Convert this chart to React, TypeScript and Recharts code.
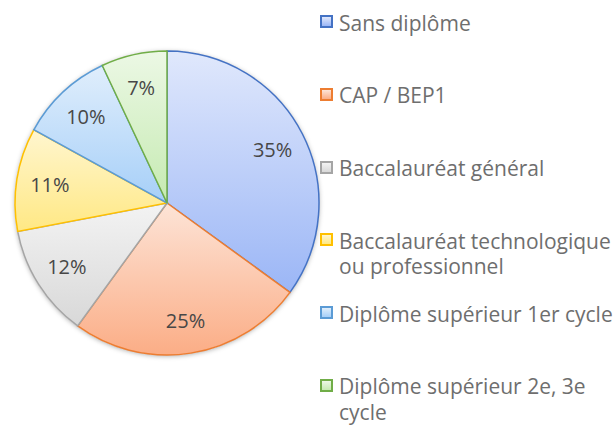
import React from "react";
import { PieChart, Pie, Cell, Legend } from "recharts";

const categories = [
  "Sans diplôme",
  "CAP / BEP1",
  "Baccalauréat général",
  "Baccalauréat technologique ou professionnel",
  "Diplôme supérieur 1er cycle",
  "Diplôme supérieur 2e, 3e cycle",
];
const shares = [35, 25, 12, 11, 10, 7];
const strokeColors = ["#4472c4", "#ed7d31", "#a5a5a5", "#ffc000", "#5b9bd5", "#70ad47"];
const topColors = ["#e0e8fc", "#fde4d7", "#f3f3f3", "#fff6cf", "#e0eefc", "#ecf8e5"];
const bottomColors = ["#9bb6f6", "#fbad86", "#d8d8d8", "#ffe884", "#a6cff8", "#c5eab1"];

const data = categories.map((name, i) => ({ name, value: shares[i] }));
const total = [{ name: "total", value: shares.reduce((a, b) => a + b, 0) }];

const RAD = Math.PI / 180;
const FONT = "'Open Sans', 'DejaVu Sans', sans-serif";

const renderLabel = (props: any) => {
  const { cx, cy, midAngle, outerRadius, value } = props;
  const r = outerRadius * 0.78;
  const x = cx + r * Math.cos(-midAngle * RAD);
  const y = cy + r * Math.sin(-midAngle * RAD);
  return (
    <text
      x={x}
      y={y}
      textAnchor="middle"
      dominantBaseline="central"
      fill="#474747"
      fontSize={20}
      fontFamily={FONT}
    >
      {`${value}%`}
    </text>
  );
};

const renderLegend = () => (
  <div style={{ fontFamily: FONT, fontSize: 21, color: "#6e6e6e" }}>
    {categories.map((c, i) => (
      <div key={c} style={{ height: 72.8, display: "flex", alignItems: "flex-start" }}>
        <div
          style={{
            boxSizing: "border-box",
            width: 13,
            height: 13,
            marginTop: 5,
            marginRight: 6,
            flex: "0 0 auto",
            border: `2px solid ${strokeColors[i]}`,
            background: `linear-gradient(${topColors[i]}, ${bottomColors[i]})`,
          }}
        />
        <div style={{ lineHeight: "25.5px", marginTop: 0.5 }}>{c}</div>
      </div>
    ))}
  </div>
);

export default function App() {
  return (
    <div style={{ position: "absolute", left: 0, top: 0, width: 615, height: 428, background: "#fff" }}>
      <PieChart width={615} height={428} margin={{ top: 0, right: 0, bottom: 0, left: 0 }}>
        <defs>
          {categories.map((c, i) => (
            <linearGradient key={c} id={`g${i}`} x1="0" y1="0" x2="0" y2="1">
              <stop offset="0%" stopColor={topColors[i]} />
              <stop offset="100%" stopColor={bottomColors[i]} />
            </linearGradient>
          ))}
          <filter id="shadow" x="-10%" y="-10%" width="120%" height="120%">
            <feDropShadow dx="0" dy="1" stdDeviation="2.5" floodColor="#000" floodOpacity="0.35" />
          </filter>
        </defs>
        <Pie
          data={total}
          dataKey="value"
          cx={167}
          cy={203}
          outerRadius={152}
          startAngle={90}
          endAngle={-270}
          stroke="none"
          fill="#ffffff"
          isAnimationActive={false}
        >
          <Cell fill="#ffffff" stroke="none" style={{ filter: "url(#shadow)" }} />
        </Pie>
        <Pie
          data={data}
          dataKey="value"
          nameKey="name"
          cx={167}
          cy={203}
          outerRadius={152}
          startAngle={90}
          endAngle={-270}
          isAnimationActive={false}
          label={renderLabel}
          labelLine={false}
        >
          {data.map((d, i) => (
            <Cell key={d.name} fill={`url(#g${i})`} stroke={strokeColors[i]} strokeWidth={1.5} />
          ))}
        </Pie>
        <Legend
          layout="vertical"
          verticalAlign="top"
          align="right"
          content={renderLegend}
          wrapperStyle={{ left: 320, top: 10, width: 295 }}
        />
      </PieChart>
    </div>
  );
}
